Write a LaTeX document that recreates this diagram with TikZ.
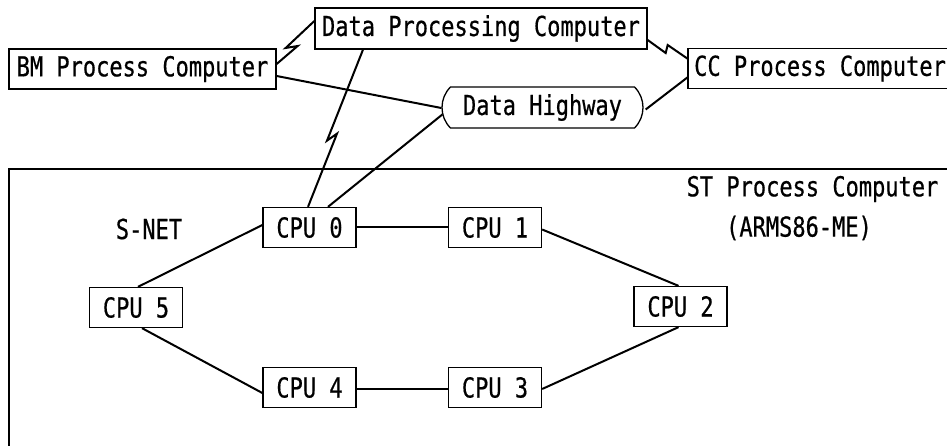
\documentclass[tikz,border=0pt]{standalone}
\usepackage{fontspec}
\newfontfamily\diagfont[FakeStretch=0.8,FakeBold=0.6]{DejaVu Sans Mono}
\usetikzlibrary{shapes.misc}
\begin{document}
\begin{tikzpicture}[x=1pt,y=-1pt,
  every node/.style={font=\diagfont\fontsize{27.5}{30}\selectfont, inner sep=0pt},
  box/.style={draw, line width=1.3pt, minimum height=40pt},
  cpubox/.style={box, minimum width=93pt},
  hwy/.style={draw, line width=1.3pt, rounded rectangle, rounded rectangle arc length=90,
              minimum width=201pt, minimum height=41pt},
  link/.style={line width=2pt, line join=miter},
  frame/.style={line width=1.3pt},
  label/.style={}]
\useasboundingbox (0,0) rectangle (947,446);
\clip (0,0) rectangle (947,446);

% upper computers
\node[box, minimum width=332pt, minimum height=41pt] (dp) at (481,28.5) {Data Processing Computer};
\node[box, minimum width=267pt] (bm) at (142.5,69) {BM Process Computer};
\node[anchor=west, minimum height=39pt] (cc) at (694,68.5) {CC Process Computer};
\draw[frame] ([xshift=30pt]cc.north east) -| ([xshift=-6pt]cc.south west) -- ([xshift=30pt]cc.south east);
\node[hwy] (dh) at (542.5,107.5) {Data Highway};

% ST process computer frame
\draw[frame] (9,169) rectangle (960,460);
\node[label] (st) at (812.5,189) {ST Process Computer};
\node[label] (arms) at (799,228) {(ARMS86-ME)};
\node[label] (snet) at (149,229) {S-NET};

% CPUs
\node[cpubox] (cpu0) at (309.5,227.5) {CPU 0};
\node[cpubox] (cpu1) at (495,227.5) {CPU 1};
\node[cpubox] (cpu2) at (680.5,306.5) {CPU 2};
\node[cpubox] (cpu3) at (495,387.5) {CPU 3};
\node[cpubox] (cpu4) at (309.5,387.5) {CPU 4};
\node[cpubox] (cpu5) at (136,307.5) {CPU 5};

% ring
\draw[link] (cpu0.east) -- (cpu1.west);
\draw[link] ([yshift=-2pt]cpu1.east) -- ([xshift=-2pt]cpu2.north);
\draw[link] ([xshift=-2pt]cpu2.south) -- ([yshift=-1.5pt]cpu3.east);
\draw[link] ([yshift=-1.5pt]cpu4.east) -- ([yshift=-1.5pt]cpu3.west);
\draw[link] ([xshift=6pt]cpu5.south) -- ([yshift=-5.5pt]cpu4.west);
\draw[link] ([xshift=2pt]cpu5.north) -- ([yshift=2.5pt]cpu0.west);

% upper links
\draw[link] ([yshift=-7pt]bm.east) -- ([yshift=-0.5pt]dh.west);
\draw[link] ([xshift=18.5pt]cpu0.north) -- ([xshift=1pt,yshift=-7pt]dh.west);
\draw[link] ([xshift=2pt,yshift=-2pt]dh.east) -- ([xshift=-6pt,yshift=-8.5pt]cc.west);

% lightning links
\draw[link] ([yshift=5pt]bm.east) -- ++(21,-18) -- ++(-12,2) -- ([yshift=7.5pt]dp.west);
\draw[link] ([xshift=-118pt]dp.south) -- ++(-36,91) -- ++(10,-7) -- ([xshift=-1.5pt]cpu0.north);
\draw[link] ([yshift=-11.5pt]dp.east) -- ++(18,13) -- ++(2,-8) -- ([xshift=-6pt,yshift=9.5pt]cc.west);
\end{tikzpicture}
\end{document}
